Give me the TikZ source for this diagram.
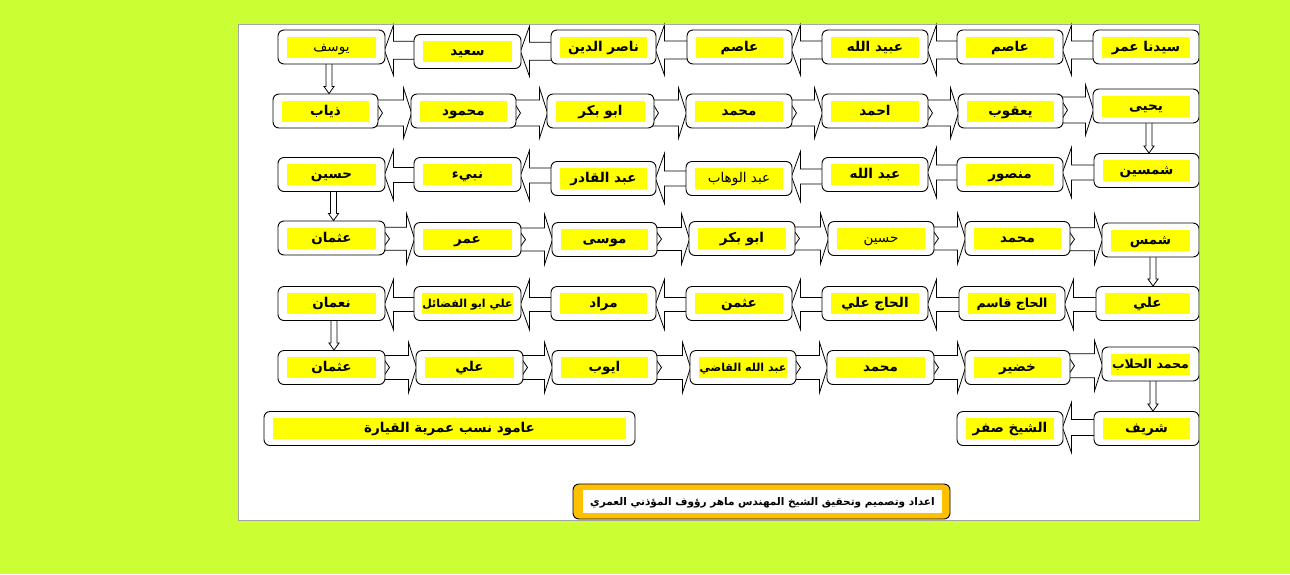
\documentclass[tikz,border=0pt]{standalone}
\usepackage{fontspec}
\usetikzlibrary{calc}
\TeXXeTstate=1
\newfontfamily\arfont[Script=Arabic]{DejaVu Sans}
\definecolor{bglime}{RGB}{204,255,51}
\definecolor{ylw}{RGB}{255,255,0}
\definecolor{orng}{RGB}{255,192,0}
\definecolor{panelgray}{RGB}{165,165,165}
\pgfdeclarelayer{bg}
\pgfsetlayers{bg,main}
\tikzset{
  outerbox/.style={draw=black, line width=0.9pt, fill=white, rounded corners=6pt,
    minimum height=34pt, inner sep=0pt},
  ylab/.style={fill=ylw, inner sep=0pt, minimum height=21pt, text height=10pt, text depth=2pt,
    font=\arfont\bfseries\fontsize{13.5}{15}\selectfont},
  smalltxt/.style={font=\arfont\bfseries\fontsize{11}{13}\selectfont},
  midtxt/.style={font=\arfont\bfseries\fontsize{12.5}{14}\selectfont},
  plaintxt/.style={font=\arfont\fontsize{13.5}{15}\selectfont},
  arrowshape/.style={draw=black, line width=0.8pt, fill=white, line join=miter},
}
% name, x, y, width, extra style, text
\newcommand\bx[6]{%
  \node[outerbox, minimum width=#4pt] (#1) at (#2,#3) {};
  \node[ylab, #5, minimum width=#4pt-18pt] (#1l) at (#1) {#6};}
% left-pointing block arrow: from (right box) to (left box), shaft half, dy
\newcommand\larr[4]{%
  \draw[arrowshape] let \p1=(#2.east), \p2=(#1.west), \n1={0.5*(\y1+\y2)-#4pt} in
    (\x1-1pt,\n1) -- (\x1+8pt,\n1+25pt) -- (\x1+8pt,\n1+#3pt) -- (\x2+4pt,\n1+#3pt)
    -- (\x2+4pt,\n1-#3pt) -- (\x1+8pt,\n1-#3pt) -- (\x1+8pt,\n1-25pt) -- cycle;}
% right-pointing notched block arrow: from (left box) to (right box)
\newcommand\rarr[4]{%
  \draw[arrowshape] let \p1=(#1.east), \p2=(#2.west), \n1={0.5*(\y1+\y2)-#4pt} in
    (\x2+1pt,\n1) -- (\x2-7pt,\n1+25pt) -- (\x2-7pt,\n1+#3pt) -- (\x1-4pt,\n1+#3pt)
    -- (\x1+4pt,\n1) -- (\x1-4pt,\n1-#3pt) -- (\x2-7pt,\n1-#3pt) -- (\x2-7pt,\n1-25pt) -- cycle;}
% down arrow: from, to, dx
\newcommand\darr[3]{%
  \draw[arrowshape] let \p1=(#1.south), \p2=(#2.north) in
    (\x1+#3pt-3pt,\y1+3pt) -- (\x1+#3pt-3pt,\y2+7pt) -- (\x1+#3pt-5pt,\y2+7pt) -- (\x1+#3pt,\y2)
    -- (\x1+#3pt+5pt,\y2+7pt) -- (\x1+#3pt+3pt,\y2+7pt) -- (\x1+#3pt+3pt,\y1+3pt) -- cycle;}
\begin{document}
\begin{tikzpicture}[x=1pt,y=-1pt]
\begin{pgfonlayer}{bg}
  \fill[bglime] (0,0) rectangle (1290,574);
  \fill[white] (238,24) rectangle (1199,520);
\end{pgfonlayer}
\useasboundingbox (0,0) rectangle (1290,574);
% row 1
\bx{r1a}{1146}{47}{106}{}{\beginR سيدنا عمر\endR}
\bx{r1b}{1010}{47}{106}{}{\beginR عاصم\endR}
\bx{r1c}{875}{47}{106}{}{\beginR عبيد الله\endR}
\bx{r1d}{739.5}{47}{105}{}{\beginR عاصم\endR}
\bx{r1e}{603.5}{47}{105}{}{\beginR ناصر الدين\endR}
\bx{r1f}{467.5}{51.5}{107}{}{\beginR سعيد\endR}
\bx{r1g}{331.5}{47}{107}{plaintxt}{\beginR يوسف\endR}
% row 2
\bx{r2a}{1146}{106}{106}{}{\beginR يحيى\endR}
\bx{r2b}{1010.5}{111}{105}{}{\beginR يعقوب\endR}
\bx{r2c}{875}{111}{106}{}{\beginR احمد\endR}
\bx{r2d}{739}{111}{106}{}{\beginR محمد\endR}
\bx{r2e}{600.5}{111}{107}{}{\beginR ابو بكر\endR}
\bx{r2f}{463.5}{111}{105}{}{\beginR محمود\endR}
\bx{r2g}{325.5}{111}{105}{}{\beginR ذياب\endR}
% row 3
\bx{r3a}{1146.5}{170.5}{105}{}{\beginR شمسين\endR}
\bx{r3b}{1010}{174.5}{106}{}{\beginR منصور\endR}
\bx{r3c}{875}{174.5}{106}{}{\beginR عبد الله\endR}
\bx{r3d}{739}{178.5}{106}{plaintxt}{\beginR عبد الوهاب\endR}
\bx{r3e}{603.5}{178.5}{105}{}{\beginR عبد القادر\endR}
\bx{r3f}{467.5}{174.5}{107}{}{\beginR نبيء\endR}
\bx{r3g}{331.5}{174.5}{107}{}{\beginR حسين\endR}
% row 4
\bx{r4a}{1150.5}{240}{97}{}{\beginR شمس\endR}
\bx{r4b}{1017.5}{238.5}{105}{}{\beginR محمد\endR}
\bx{r4c}{881}{238.5}{106}{plaintxt}{\beginR حسين\endR}
\bx{r4d}{742}{238.5}{106}{}{\beginR ابو بكر\endR}
\bx{r4e}{604.5}{239.5}{105}{}{\beginR موسى\endR}
\bx{r4f}{467.5}{239.5}{107}{}{\beginR عمر\endR}
\bx{r4g}{331.5}{238}{107}{}{\beginR عثمان\endR}
% row 5
\bx{r5a}{1147.5}{303.5}{103}{}{\beginR علي\endR}
\bx{r5b}{1012}{303.5}{106}{midtxt}{\beginR الحاج قاسم\endR}
\bx{r5c}{875}{303.5}{106}{}{\beginR الحاج علي\endR}
\bx{r5d}{739}{303.5}{106}{}{\beginR عثمن\endR}
\bx{r5e}{603.5}{303.5}{105}{}{\beginR مراد\endR}
\bx{r5f}{467.5}{303.5}{107}{smalltxt}{\beginR علي ابو الفضائل\endR}
\bx{r5g}{331.5}{303.5}{107}{}{\beginR نعمان\endR}
% row 6
\bx{r6a}{1150.5}{364}{97}{midtxt}{\beginR محمد الحلاب\endR}
\bx{r6b}{1017.5}{367.5}{105}{}{\beginR خضير\endR}
\bx{r6c}{880.5}{367.5}{107}{}{\beginR محمد\endR}
\bx{r6d}{743}{367.5}{106}{smalltxt}{\beginR عبد الله القاضي\endR}
\bx{r6e}{604.5}{367.5}{105}{}{\beginR ايوب\endR}
\bx{r6f}{469.5}{367.5}{107}{}{\beginR علي\endR}
\bx{r6g}{331.5}{367.5}{107}{}{\beginR عثمان\endR}
% row 7
\bx{r7a}{1146.5}{428.5}{105}{}{\beginR شريف\endR}
\bx{r7b}{1010}{428.5}{106}{}{\beginR الشيخ صفر\endR}
\bx{title}{449.5}{428.5}{371}{}{\beginR عامود نسب عمرية القيارة\endR}
% credit
\node[draw=black, line width=0.9pt, fill=orng, rounded corners=6pt, minimum width=377pt,
  minimum height=35pt, inner sep=0pt] (credit) at (761.5,501.5) {};
\node[fill=white, minimum width=359pt, minimum height=23pt, inner sep=0pt,
  text height=9pt, text depth=2pt,
  font=\arfont\bfseries\fontsize{10.5}{12}\selectfont] (creditl) at (762.5,501.5)
  {\beginR اعداد وتصميم وتحقيق الشيخ المهندس ماهر رؤوف المؤذني العمري\endR};
\begin{pgfonlayer}{bg}
  % row 1 (left)
  \larr{r1a}{r1b}{9}{3}
  \larr{r1b}{r1c}{9}{3}
  \larr{r1c}{r1d}{9}{3}
  \larr{r1d}{r1e}{9}{3}
  \larr{r1e}{r1f}{9}{2}
  \larr{r1f}{r1g}{9}{1}
  % row 2 (right)
  \rarr{r2g}{r2f}{13}{2}
  \rarr{r2f}{r2e}{13}{2}
  \rarr{r2e}{r2d}{13}{2}
  \rarr{r2d}{r2c}{13}{2}
  \rarr{r2c}{r2b}{13}{2}
  \rarr{r2b}{r2a}{13}{1.5}
  % row 3 (left)
  \larr{r3a}{r3b}{7.5}{0}
  \larr{r3b}{r3c}{7.5}{-2}
  \larr{r3c}{r3d}{7.5}{0}
  \larr{r3d}{r3e}{7.5}{0}
  \larr{r3e}{r3f}{7.5}{-1}
  \larr{r3f}{r3g}{7.5}{0.5}
  % row 4 (right)
  \rarr{r4g}{r4f}{11.5}{0}
  \rarr{r4f}{r4e}{11.5}{0}
  \rarr{r4e}{r4d}{11.5}{0}
  \rarr{r4d}{r4c}{11.5}{0}
  \rarr{r4c}{r4b}{11.5}{0}
  \rarr{r4b}{r4a}{11.5}{0}
  % row 5 (left)
  \larr{r5a}{r5b}{7}{1}
  \larr{r5b}{r5c}{7}{1}
  \larr{r5c}{r5d}{7}{1}
  \larr{r5d}{r5e}{7}{1}
  \larr{r5e}{r5f}{7}{1}
  \larr{r5f}{r5g}{7}{1}
  % row 6 (right)
  \rarr{r6g}{r6f}{12}{0}
  \rarr{r6f}{r6e}{12}{0}
  \rarr{r6e}{r6d}{12}{0}
  \rarr{r6d}{r6c}{12}{0}
  \rarr{r6c}{r6b}{12}{0}
  \rarr{r6b}{r6a}{12}{0}
  % row 7 (left)
  \larr{r7a}{r7b}{8}{-1}
  % down arrows
  \darr{r1g}{r2g}{-2.5}
  \darr{r2a}{r3a}{3}
  \darr{r3g}{r4g}{2}
  \darr{r4a}{r5a}{2.5}
  \darr{r5g}{r6g}{2.5}
  \darr{r6a}{r7a}{2.5}
\end{pgfonlayer}
\draw[panelgray, line width=0.8pt] (238,24) rectangle (1199,520);
\end{tikzpicture}
\end{document}
